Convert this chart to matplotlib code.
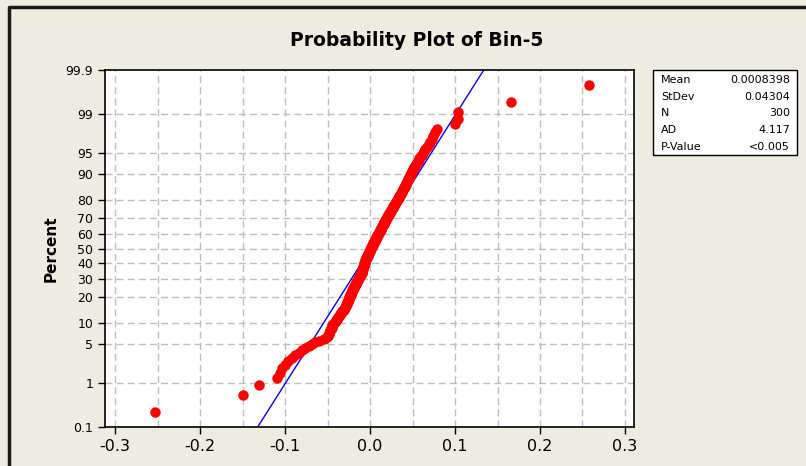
import matplotlib
matplotlib.use("Agg")
import matplotlib.pyplot as plt
from matplotlib.lines import Line2D
from matplotlib.patches import Rectangle
import numpy as np
from statistics import NormalDist

# sorted sample values (300 points)
bin5 = [
    -0.253, -0.150, -0.131, -0.109, -0.106, -0.103, -0.100, -0.097, -0.0923, -0.088,
    -0.0841, -0.080, -0.076, -0.0718, -0.068, -0.0644, -0.0604, -0.0544, -0.0506, -0.0494,
    -0.0485, -0.0478, -0.0472, -0.0466, -0.0459, -0.0453, -0.0448, -0.0442, -0.0433, -0.0424,
    -0.0415, -0.0406, -0.0398, -0.0390, -0.0381, -0.0373, -0.0365, -0.0358, -0.0350, -0.0341,
    -0.0333, -0.0325, -0.0318, -0.0311, -0.0304, -0.0296, -0.0289, -0.0285, -0.0281, -0.0278,
    -0.0273, -0.0269, -0.0266, -0.0262, -0.0259, -0.0255, -0.0252, -0.0249, -0.0246, -0.0242,
    -0.0239, -0.0235, -0.0232, -0.0229, -0.0226, -0.0222, -0.0219, -0.0216, -0.0213, -0.0209,
    -0.0207, -0.0204, -0.0199, -0.0195, -0.0192, -0.0188, -0.0185, -0.0180, -0.0176, -0.0173,
    -0.0169, -0.0166, -0.0162, -0.0159, -0.0155, -0.0152, -0.0148, -0.0145, -0.0141, -0.0138,
    -0.0134, -0.0131, -0.0127, -0.0124, -0.0120, -0.0116, -0.0113, -0.0111, -0.0107, -0.0104,
    -0.0100, -0.0099, -0.0096, -0.0094, -0.0093, -0.0091, -0.0089, -0.0087, -0.0085, -0.0084,
    -0.0081, -0.0080, -0.0078, -0.0075, -0.0074, -0.0072, -0.0070, -0.0068, -0.0067, -0.0065,
    -0.0064, -0.0061, -0.0060, -0.0058, -0.0056, -0.0054, -0.0053, -0.0050, -0.0047, -0.0045,
    -0.0042, -0.0039, -0.0036, -0.0034, -0.0032, -0.0028, -0.0026, -0.0024, -0.0021, -0.0019,
    -0.0016, -0.0013, -0.0011, -0.0008, -0.0006, -0.0004, 0.0000, 0.0002, 0.0005, 0.0007,
    0.0011, 0.0013, 0.0016, 0.0019, 0.0022, 0.0025, 0.0028, 0.0031, 0.0033, 0.0036,
    0.0039, 0.0042, 0.0045, 0.0047, 0.0051, 0.0053, 0.0056, 0.0059, 0.0062, 0.0065,
    0.0068, 0.0071, 0.0073, 0.0076, 0.0079, 0.0082, 0.0085, 0.0088, 0.0092, 0.0094,
    0.0098, 0.0101, 0.0105, 0.0107, 0.0111, 0.0114, 0.0116, 0.0120, 0.0124, 0.0126,
    0.0129, 0.0133, 0.0135, 0.0139, 0.0142, 0.0146, 0.0148, 0.0152, 0.0155, 0.0159,
    0.0161, 0.0165, 0.0168, 0.0172, 0.0175, 0.0178, 0.0181, 0.0185, 0.0189, 0.0193,
    0.0196, 0.0200, 0.0205, 0.0208, 0.0212, 0.0216, 0.0220, 0.0224, 0.0228, 0.0232,
    0.0236, 0.0240, 0.0244, 0.0248, 0.0252, 0.0256, 0.0260, 0.0265, 0.0268, 0.0273,
    0.0276, 0.0281, 0.0286, 0.0290, 0.0294, 0.0299, 0.0304, 0.0308, 0.0313, 0.0318,
    0.0322, 0.0327, 0.0332, 0.0336, 0.0341, 0.0346, 0.0351, 0.0355, 0.0361, 0.0366,
    0.0371, 0.0376, 0.0381, 0.0387, 0.0392, 0.0398, 0.0402, 0.0408, 0.0413, 0.0418,
    0.0422, 0.0428, 0.0433, 0.0438, 0.0444, 0.0448, 0.0454, 0.0460, 0.0466, 0.0472,
    0.0478, 0.0484, 0.0491, 0.0496, 0.0505, 0.0513, 0.0522, 0.0532, 0.0541, 0.0551,
    0.0561, 0.0572, 0.0582, 0.0595, 0.0607, 0.0619, 0.0635, 0.0652, 0.0669, 0.0689,
    0.0709, 0.0727, 0.0746, 0.0765, 0.0785, 0.1002, 0.1030, 0.1040, 0.1660, 0.2580,
]

# summary shown in the box
stat_names = ["Mean", "StDev", "N", "AD", "P-Value"]
stat_values = ["0.0008398", "0.04304", "300", "4.117", "<0.005"]
fit_mean = 0.0008398
fit_sd = 0.04304

pct_ticks = [0.1, 1, 5, 10, 20, 30, 40, 50, 60, 70, 80, 90, 95, 99, 99.9]
pct_labels = ["0.1", "1", "5", "10", "20", "30", "40", "50", "60", "70", "80", "90", "95", "99", "99.9"]
x_ticks = [-0.3, -0.2, -0.1, 0.0, 0.1, 0.2, 0.3]

nd = NormalDist()
W, H = 806, 466
bg = "#EEEBE1"

plt.rcParams["axes.unicode_minus"] = False
plt.rcParams["font.family"] = "DejaVu Sans"

fig = plt.figure(figsize=(W / 100, H / 100), dpi=100)
fig.patch.set_facecolor(bg)
ax = fig.add_axes([105 / W, 1 - 427 / H, (634 - 105) / W, (427 - 70) / H])
ax.set_facecolor("white")

# median ranks -> normal scores
n = len(bin5)
ranks = np.arange(1, n + 1)
z = np.array([nd.inv_cdf(p) for p in (ranks - 0.3) / (n + 0.4)])

zlim = nd.inv_cdf(0.999)
ax.set_ylim(-zlim, zlim)
ax.set_xlim(-0.3118, 0.3106)

# grid
for gx in np.arange(-0.3, 0.301, 0.05):
    ax.axvline(gx, color="#BDBDBD", lw=1, ls=(0, (5, 3)), zorder=0)
for p in pct_ticks[1:-1]:
    ax.axhline(nd.inv_cdf(p / 100), color="#BDBDBD", lw=1, ls=(0, (5, 3)), zorder=0)

# fitted line
zz = np.array([-zlim, zlim])
ax.plot(fit_mean + fit_sd * zz, zz, color="#0000FF", lw=1, zorder=2)

# points
ax.plot(bin5, z, "o", color="#FF0000", ms=7.5, mec="none", zorder=3)

ax.set_yticks([nd.inv_cdf(p / 100) for p in pct_ticks])
ax.set_yticklabels(pct_labels, fontsize=9)
ax.set_xticks(x_ticks)
ax.set_xticklabels([f"{t:.1f}" for t in x_ticks], fontsize=11.5)
ax.tick_params(direction="out", length=5, width=1, colors="black")
for s in ax.spines.values():
    s.set_linewidth(1.2)
ax.set_ylabel("Percent", fontsize=11, fontweight="bold", labelpad=5)

fig.text(417 / W, 1 - 41 / H, "Probability Plot of Bin-5", ha="center", va="center",
         fontsize=13.5, fontweight="bold")

# stats box
bx0, by0, bx1, by1 = 653, 70, 797, 155
fig.add_artist(Rectangle((bx0 / W, 1 - by1 / H), (bx1 - bx0) / W, (by1 - by0) / H,
                         transform=fig.transFigure, facecolor="white", edgecolor="black", lw=1))
for k, (nm, val) in enumerate(zip(stat_names, stat_values)):
    yy = 1 - (80 + k * 16.7) / H
    fig.text(661 / W, yy, nm, ha="left", va="center", fontsize=8)
    fig.text(790 / W, yy, val, ha="right", va="center", fontsize=8)

# window frame edges
fig.add_artist(Line2D([9 / W, 9 / W, 1], [0, 1 - 7 / H, 1 - 7 / H], transform=fig.transFigure,
                      color="#1A1A1A", lw=2.5))

fig.savefig("out.png", dpi=100, facecolor=bg)
